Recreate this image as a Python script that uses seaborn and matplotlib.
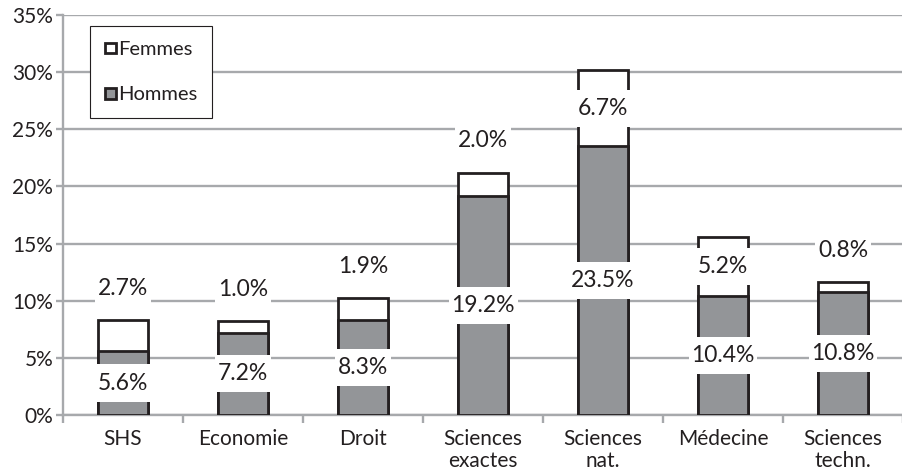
import numpy as np
import pandas as pd
import matplotlib
matplotlib.use("Agg")
import matplotlib.pyplot as plt
from matplotlib.path import Path
from matplotlib.patches import Patch
from matplotlib.ticker import FixedLocator, PercentFormatter
import seaborn as sns

# Data
categories = ["SHS", "Economie", "Droit", "Sciences\nexactes", "Sciences\nnat.",
              "Médecine", "Sciences\ntechn."]
hommes = [5.6, 7.2, 8.3, 19.2, 23.5, 10.4, 10.8]
femmes = [2.7, 1.0, 1.9, 2.0, 6.7, 5.2, 0.8]
y_ticks = [0, 5, 10, 15, 20, 25, 30, 35]

df = pd.DataFrame({"cat": categories, "Hommes": hommes, "Femmes": femmes})
df["Total"] = df["Hommes"] + df["Femmes"]

sns.set_theme(style="white")
plt.rcParams["font.family"] = ["Lato", "DejaVu Sans"]

GRID = "#a7a9ac"
GRAY = "#939598"
INK = "#231f20"

fig = plt.figure(figsize=(9.02, 4.76), dpi=100)
ax = fig.add_axes([63 / 902, 1 - 415 / 476, 840 / 902, 400 / 476])

# stacked bars: full height in white, men's share drawn over it
sns.barplot(data=df, x="cat", y="Total", color="white", edgecolor=INK,
            linewidth=2, width=0.41, saturation=1, ax=ax, zorder=3)
sns.barplot(data=df, x="cat", y="Hommes", color=GRAY, edgecolor=INK,
            linewidth=2, width=0.41, saturation=1, ax=ax, zorder=3)

ax.set_ylim(0, 35)
ax.set_xlim(-0.5, len(categories) - 0.5)
ax.yaxis.set_major_locator(FixedLocator(y_ticks))
ax.yaxis.set_major_formatter(PercentFormatter(decimals=0))
ax.grid(axis="y", color=GRID, linewidth=1.7, zorder=0)
ax.set_axisbelow(True)
ax.set_xlabel("")
ax.set_ylabel("")

for s in ["top", "right"]:
    ax.spines[s].set_visible(False)
for s in ["left", "bottom"]:
    ax.spines[s].set_color(GRID)
    ax.spines[s].set_linewidth(1.7)

ax.tick_params(axis="y", which="major", left=True, length=5, width=1.7,
               color=GRID, labelsize=15, labelcolor=INK, pad=2)
ax.tick_params(axis="x", which="major", bottom=False, labelsize=15,
               labelcolor=INK, pad=4)
ax.xaxis.set_minor_locator(FixedLocator(np.arange(-0.5, len(categories), 1.0)))
ax.tick_params(axis="x", which="minor", bottom=True, length=6, width=1.7,
               color=GRID)
for lab in ax.get_xticklabels():
    lab.set_linespacing(1.12)


# white label box: tight sideways, tall vertically
def label_box(x0, y0, width, height, mutation_size):
    px = 0.12 * mutation_size
    py = 0.35 * mutation_size
    x0, y0 = x0 - px, y0 - py
    x1, y1 = x0 + width + 2 * px, y0 + height + 2 * py
    return Path([(x0, y0), (x1, y0), (x1, y1), (x0, y1), (x0, y0)], closed=True)


box = dict(boxstyle=label_box, facecolor="white", edgecolor="none")

for i, (h, f) in enumerate(zip(hommes, femmes)):
    ax.text(i, h / 2, f"{h:.1f}%", ha="center", va="center", fontsize=16.5,
            color=INK, bbox=box, zorder=5)
    fy = h + f / 2 if f >= 3 else h + f + 2.8
    ax.text(i, fy, f"{f:.1f}%", ha="center", va="center", fontsize=16.5,
            color=INK, bbox=box, zorder=5)

handles = [Patch(facecolor="white", edgecolor=INK, linewidth=2, label="Femmes"),
           Patch(facecolor=GRAY, edgecolor=INK, linewidth=2, label="Hommes")]
leg = ax.legend(handles=handles, loc="upper left", bbox_to_anchor=(0.032, 0.9725),
                borderaxespad=0, fontsize=14.5, handlelength=0.55, handleheight=0.45,
                handletextpad=0.1, labelspacing=1.4, borderpad=0.75,
                fancybox=False, framealpha=1, edgecolor=INK)
leg.get_frame().set_linewidth(0.8)
for t in leg.get_texts():
    t.set_color(INK)

fig.savefig("out.png", dpi=100)
